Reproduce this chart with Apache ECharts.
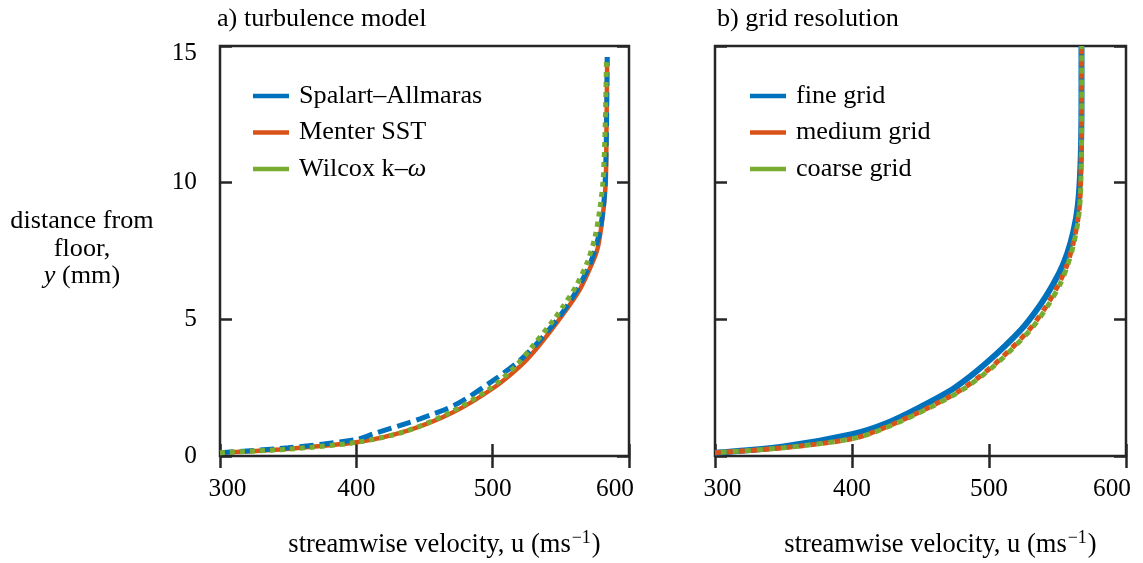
<!DOCTYPE html>
<html>
<head>
<meta charset="utf-8">
<script src="https://cdn.jsdelivr.net/npm/echarts@6/dist/echarts.min.js"></script>
<style>
  html, body { margin: 0; padding: 0; background: #fff; }
  #chart { width: 1143px; height: 563px; }
</style>
</head>
<body>
<div id="chart"></div>
<script>
// Velocity profiles: distance from floor y (mm) against streamwise velocity u (m/s)

// a) turbulence model
const saY  = [0.12, 0.3, 0.6, 0.8, 1.36, 1.9, 2.75, 3.5, 4.2, 5.1, 6.0, 7.1, 8.1, 9.0, 10, 12, 14.6];
const saU  = [300, 350, 400, 412, 446.7, 473.7, 500, 520, 534, 549, 561, 572, 578, 581, 582.5, 583.5, 584];
const sstY = [0.12, 0.26, 0.5, 0.92, 1.6, 2.47, 3.28, 3.98, 5.05, 6.1, 7.17, 7.6, 8.15, 9.12, 10.1, 12, 14.6];
const sstU = [300, 348.7, 400, 437, 471, 500, 520, 533, 549.6, 564, 574, 577, 579, 581.5, 583, 583.5, 584];
const kwY  = [0.12, 0.25, 0.5, 0.9, 1.6, 2.47, 3.3, 4.0, 5.0, 5.5, 6.2, 7.1, 8.0, 9.0, 10.1, 12, 14.6];
const kwU  = [300, 350, 400, 436, 469, 498, 517, 529, 545, 552, 561, 569.5, 575, 578.5, 581, 582.5, 583.5];

// b) grid resolution
const fineY   = [0.12, 0.35, 0.8, 1.2, 1.8, 2.5, 3.4, 4.6, 5.5, 6.3, 7.0, 7.8, 8.7, 9.5, 11, 13, 15];
const fineU   = [300, 350, 400, 425, 450, 475, 498, 523, 537, 547, 554, 559.5, 563.5, 565.5, 567, 567.5, 567.5];
const mediumY = [0.12, 0.3, 0.63, 1.0, 1.8, 2.5, 3.4, 4.6, 5.5, 6.3, 7.0, 7.8, 8.7, 9.5, 11, 13, 15];
const mediumU = [300, 350, 400, 422, 457, 482, 505, 529, 542, 551, 557, 561.5, 565, 566.5, 567.3, 567.6, 567.6];
const coarseY = [0.12, 0.3, 0.63, 1.0, 1.8, 2.5, 3.4, 4.6, 5.5, 6.3, 7.0, 7.8, 8.7, 9.5, 11, 13, 15];
const coarseU = [300, 350, 400, 423, 458, 483, 506, 530, 543, 552, 557.5, 562, 565.3, 566.7, 567.4, 567.7, 567.7];

const uTicks = [300, 400, 500, 600];
const yTicks = [0, 5, 10, 15];

const BLUE = '#0072BD', ORANGE = '#D95319', GREEN = '#77AC30';
const INK = '#262626';
const FONT = '"Liberation Serif", "DejaVu Serif", serif';
const FS = 25.3;   // tick labels
const TXT = 26.2;  // titles, legends, axis names

const pairs = (us, ys) => us.map((u, i) => [u, ys[i]]);

const uName = '{t|streamwise velocity, u (ms}{s|\u22121}{t|)}';
const nameRich = {
  t: { fontFamily: FONT, fontSize: 26.5, color: '#000' },
  s: { fontFamily: FONT, fontSize: 18, color: '#000', padding: [0, 1, 14, 1] },
  i: { fontFamily: FONT, fontSize: TXT, color: '#000', fontStyle: 'italic' },
  r: { fontFamily: FONT, fontSize: TXT, color: '#000' }
};

const tickRich = {
  n: { fontFamily: FONT, fontSize: FS, color: '#000' },
  lo: { fontFamily: FONT, fontSize: FS, color: '#000', padding: [0, 0, 0, 15] },
  hi: { fontFamily: FONT, fontSize: FS, color: '#000', padding: [0, 28, 0, 0] },
  top: { fontFamily: FONT, fontSize: FS, color: '#000', padding: [14, 0, 0, 0] }
};

const tickStyle = { show: true, inside: true, length: 12, lineStyle: { color: INK, width: 2.5 } };

function xAxes(gridIndex) {
  return [{
    gridIndex, type: 'value', min: uTicks[0], max: uTicks[uTicks.length - 1], interval: 100,
    position: 'bottom',
    axisLine: { show: false },
    axisTick: tickStyle,
    splitLine: { show: false },
    axisLabel: {
      margin: 21,
      formatter: v => v === uTicks[0] ? '{lo|' + v + '}' : (v === uTicks[uTicks.length - 1] ? '{hi|' + v + '}' : '{n|' + v + '}'),
      rich: tickRich
    },
    name: uName, nameLocation: 'middle', nameGap: 73,
    nameTextStyle: { rich: nameRich, fontFamily: FONT, fontSize: 26.5, padding: [0, 0, 0, 40] }
  }, {
    gridIndex, type: 'value', min: uTicks[0], max: uTicks[uTicks.length - 1], interval: 100,
    position: 'top',
    axisLine: { show: false },
    axisTick: tickStyle,
    splitLine: { show: false },
    axisLabel: { show: false }
  }];
}

function yAxes(gridIndex, withLabels) {
  const left = {
    gridIndex, type: 'value', min: yTicks[0], max: yTicks[yTicks.length - 1], interval: 5,
    position: 'left',
    axisLine: { show: false },
    axisTick: tickStyle,
    splitLine: { show: false },
    axisLabel: withLabels ? {
      margin: 23,
      formatter: v => v === yTicks[yTicks.length - 1] ? '{top|' + v + '}' : '{n|' + v + '}',
      rich: tickRich
    } : { show: false }
  };
  if (withLabels) {
    left.name = '{r|distance from}\n{r|floor,}\n{i|y}{r| (mm)}';
    left.nameLocation = 'middle';
    left.nameRotate = 0;
    left.nameGap = 138;
    left.nameTextStyle = {
      fontFamily: FONT, fontSize: TXT, color: '#000', lineHeight: 27.5,
      align: 'center', verticalAlign: 'middle', padding: [0, 0, 4, 0], rich: nameRich
    };
  }
  const right = {
    gridIndex, type: 'value', min: yTicks[0], max: yTicks[yTicks.length - 1], interval: 5,
    position: 'right',
    axisLine: { show: false },
    axisTick: tickStyle,
    splitLine: { show: false },
    axisLabel: { show: false }
  };
  return [left, right];
}

function profile(name, us, ys, color, width, type, dashOffset, xi, yi, z) {
  return {
    name, type: 'line', xAxisIndex: xi, yAxisIndex: yi,
    data: pairs(us, ys), showSymbol: false, symbol: 'none', smooth: 0.3, z,
    color,
    lineStyle: { color, width, type, dashOffset, cap: 'butt' },
    emphasis: { disabled: true }, animation: false
  };
}

const legendText = name => name === 'Wilcox k\u2013\u03c9' ? '{n|Wilcox k\u2013}{i|\u03c9}' : '{n|' + name + '}';
const legendRich = {
  n: { fontFamily: FONT, fontSize: TXT, color: '#000', lineHeight: 28 },
  i: { fontFamily: FONT, fontSize: TXT, color: '#000', fontStyle: 'italic', lineHeight: 28 }
};

function legend(left, names) {
  return {
    data: names, left, top: 82, orient: 'vertical', padding: 0,
    icon: 'rect', itemWidth: 36, itemHeight: 4.5, itemGap: 8.5,
    selectedMode: false,
    formatter: legendText,
    textStyle: { fontFamily: FONT, fontSize: TXT, color: '#000', lineHeight: 28, padding: [0, 0, 0, 5], rich: legendRich }
  };
}

const titleStyle = { fontFamily: FONT, fontSize: TXT, fontWeight: 'normal', color: '#000' };
const chart = echarts.init(document.getElementById('chart'), null, { renderer: 'canvas' });
chart.setOption({
  backgroundColor: '#fff',
  animation: false,
  title: [
    { text: 'a) turbulence model', left: 212, top: 1, textStyle: titleStyle },
    { text: 'b) grid resolution', left: 712, top: 1, textStyle: titleStyle }
  ],
  grid: [
    { left: 220, top: 46, width: 409, height: 410, show: true, borderColor: INK, borderWidth: 2.5, backgroundColor: 'transparent', outerBoundsMode: 'none', containLabel: false },
    { left: 715, top: 46, width: 411, height: 410, show: true, borderColor: INK, borderWidth: 2.5, backgroundColor: 'transparent', outerBoundsMode: 'none', containLabel: false }
  ],
  xAxis: [...xAxes(0), ...xAxes(1)],
  yAxis: [...yAxes(0, true), ...yAxes(1, false)],
  legend: [
    legend(253, ['Spalart\u2013Allmaras', 'Menter SST', 'Wilcox k\u2013\u03c9']),
    legend(750, ['fine grid', 'medium grid', 'coarse grid'])
  ],
  series: [
    profile('Menter SST', sstU, sstY, ORANGE, 4.5, 'solid', 0, 0, 0, 2),
    profile('Spalart\u2013Allmaras', saU, saY, BLUE, 5, [14, 6], 0, 0, 0, 3),
    profile('Wilcox k\u2013\u03c9', kwU, kwY, GREEN, 5, [5, 5], 0, 0, 0, 4),
    profile('fine grid', fineU, fineY, BLUE, 6, 'solid', 0, 2, 2, 2),
    profile('medium grid', mediumU, mediumY, ORANGE, 5, [6, 6], 0, 2, 2, 3),
    profile('coarse grid', coarseU, coarseY, GREEN, 5, [6, 6], 6, 2, 2, 4)
  ]
});
</script>
</body>
</html>
